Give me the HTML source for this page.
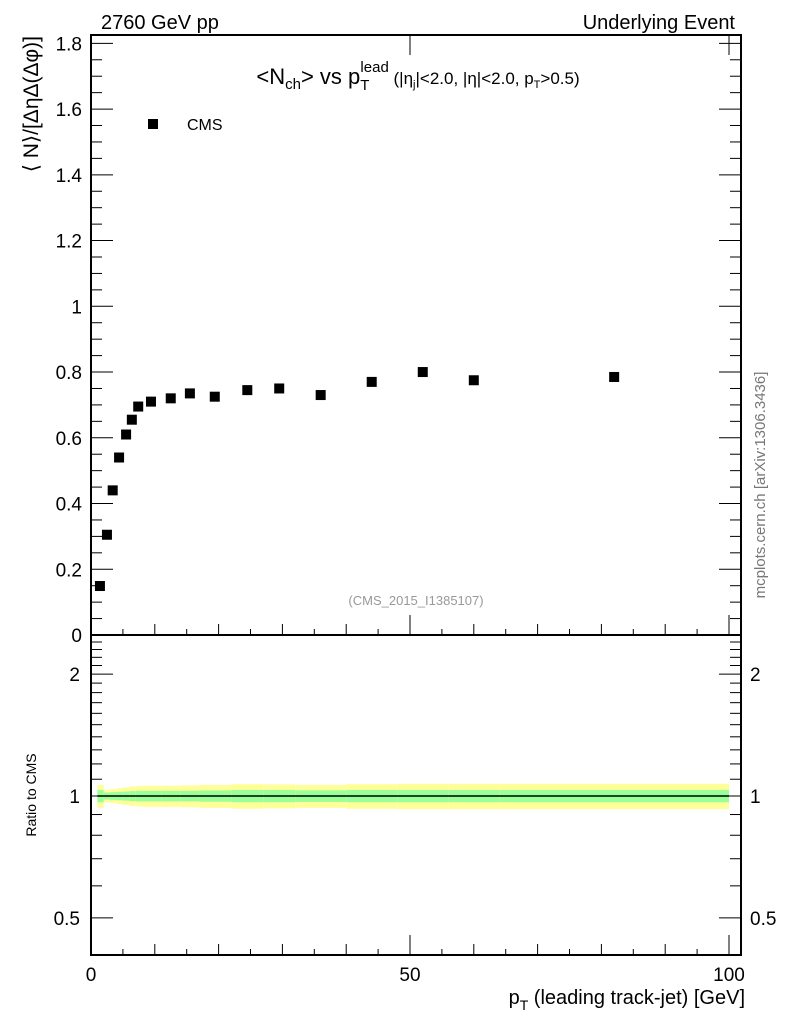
<!DOCTYPE html>
<html><head><meta charset="utf-8"><style>
body{margin:0;background:#fff}
svg{display:block;font-family:"Liberation Sans","DejaVu Sans",sans-serif}
</style></head><body>
<svg id="c" width="786" height="1024" viewBox="0 0 786 1024" xmlns="http://www.w3.org/2000/svg">
<g id="bands"></g>
<g id="marks"></g>
<g id="axes"></g>
<text x="101" y="29" font-size="20">2760 GeV pp</text>
<text x="735" y="29" font-size="20" text-anchor="end">Underlying Event</text>
<text x="418" y="84" font-size="22" text-anchor="middle">&lt;N<tspan font-size="15" dy="5">ch</tspan><tspan dy="-5">&gt; vs p</tspan><tspan font-size="15" dy="6">T</tspan><tspan font-size="15" dx="-9" dy="-18">lead</tspan><tspan font-size="17" dy="12"> (|η</tspan><tspan font-size="11" dy="4">j</tspan><tspan font-size="17" dy="-4">|&lt;2.0, |η|&lt;2.0, p</tspan><tspan font-size="11" dy="4">T</tspan><tspan font-size="17" dy="-4">&gt;0.5)</tspan></text>
<rect x="148" y="119" width="10" height="10" fill="#000"/>
<text x="187" y="130" font-size="16">CMS</text>
<text x="416" y="605" font-size="13" fill="#999" text-anchor="middle">(CMS_2015_I1385107)</text>
<text transform="translate(38,36) rotate(-90)" font-size="21" text-anchor="end">⟨ N⟩/[ΔηΔ(Δφ)]</text>
<text transform="translate(36,795) rotate(-90)" font-size="14" text-anchor="middle">Ratio to CMS</text>
<text transform="translate(765,485) rotate(-90)" font-size="15" fill="#777" text-anchor="middle">mcplots.cern.ch [arXiv:1306.3436]</text>
<text x="745" y="1004" font-size="20" text-anchor="end">p<tspan font-size="14" dy="6">T</tspan><tspan dy="-6"> (leading track-jet) [GeV]</tspan></text>
</svg>
<script>
const xVals=[1.4,2.5,3.4,4.4,5.5,6.4,7.4,9.4,12.5,15.5,19.4,24.5,29.5,36,44,52,60,82];
const yVals=[0.149,0.305,0.44,0.54,0.61,0.655,0.695,0.71,0.72,0.735,0.725,0.745,0.75,0.73,0.77,0.80,0.775,0.785];
const binEdges=[1,2,3,4,5,6,7,8,11,14,17,22,27,32,40,48,56,64,100];
const yellowErr=[0.065,0.035,0.04,0.045,0.05,0.055,0.057,0.06,0.06,0.062,0.065,0.07,0.068,0.065,0.07,0.072,0.072,0.072];
const greenErr=[0.035,0.02,0.022,0.024,0.026,0.028,0.03,0.03,0.03,0.03,0.032,0.035,0.035,0.033,0.035,0.035,0.035,0.035];
const mainTicks=["0","0.2","0.4","0.6","0.8","1","1.2","1.4","1.6","1.8"];
const ratioTicks=["0.5","1","2"];
const xTicks=["0","50","100"];
const NS="http://www.w3.org/2000/svg";
const L=91,R=741,T=35,M=635,B=955;
const X=v=>L+(v)*6.38;
const Y=v=>M-v*328.7;
const RY=v=>796-405*Math.log10(v);
function el(t,a,p){const e=document.createElementNS(NS,t);for(const k in a)e.setAttribute(k,a[k]);(p||document.getElementById('axes')).appendChild(e);return e;}
const bands=document.getElementById('bands'),marks=document.getElementById('marks');
for(let i=0;i<xVals.length;i++){
 const x0=X(binEdges[i]),x1=X(binEdges[i+1]);
 const y=el('rect',{x:x0,y:RY(1+yellowErr[i]),width:x1-x0,height:RY(1-yellowErr[i])-RY(1+yellowErr[i]),fill:'#ffff99'},bands);
 
 
 const g=el('rect',{x:x0,y:RY(1+greenErr[i]),width:x1-x0,height:RY(1-greenErr[i])-RY(1+greenErr[i]),fill:'#99ff99'},bands);
 
 
 const p=el('rect',{x:X(xVals[i])-5,y:Y(yVals[i])-5,width:10,height:10,fill:'#000'},marks);
 
 
}
el('line',{x1:X(1),x2:X(100),y1:RY(1),y2:RY(1),stroke:'#000','stroke-width':1.5});
el('rect',{x:L,y:T,width:R-L,height:M-T,fill:'none',stroke:'#000','stroke-width':2});
el('rect',{x:L,y:M,width:R-L,height:B-M,fill:'none',stroke:'#000','stroke-width':2});
for(let v=0;v<=1.8001;v+=0.05){const maj=Math.abs(v/0.2-Math.round(v/0.2))<1e-6;const l=maj?22:11;
 el('line',{x1:L,x2:L+l,y1:Y(v),y2:Y(v),stroke:'#000'});el('line',{x1:R,x2:R-l,y1:Y(v),y2:Y(v),stroke:'#000'});}
mainTicks.forEach(s=>{const t=el('text',{x:82,y:Y(+s)+7,'font-size':19,'text-anchor':'end'});t.textContent=s;
 
 });
for(let v=0;v<=100;v+=5){const l=v%50==0?20:(v%10==0?11:6);
 [M,B].forEach(b=>el('line',{x1:X(v),x2:X(v),y1:b,y2:b-l,stroke:'#000'}));
 if(v%50==0)el('line',{x1:X(v),x2:X(v),y1:T,y2:T+l,stroke:'#000'});}
xTicks.forEach(s=>{const t=el('text',{x:X(+s),y:981,'font-size':19,'text-anchor':'middle'});t.textContent=s;
 
 });
[0.5,0.6,0.7,0.8,0.9,1,1.1,1.2,1.3,1.4,1.5,1.6,1.7,1.8,1.9,2,2.1,2.2,2.3,2.4].forEach(v=>{const maj=[0.5,1,2].includes(v);const l=maj?22:11;
 el('line',{x1:L,x2:L+l,y1:RY(v),y2:RY(v),stroke:'#000'});el('line',{x1:R,x2:R-l,y1:RY(v),y2:RY(v),stroke:'#000'});});
ratioTicks.forEach(s=>{const t=el('text',{x:80,y:RY(+s)+7,'font-size':19,'text-anchor':'end'});t.textContent=s;
 
 
 const t2=el('text',{x:750,y:RY(+s)+7,'font-size':19});t2.textContent=s;
 
 });
</script>
</body></html>
